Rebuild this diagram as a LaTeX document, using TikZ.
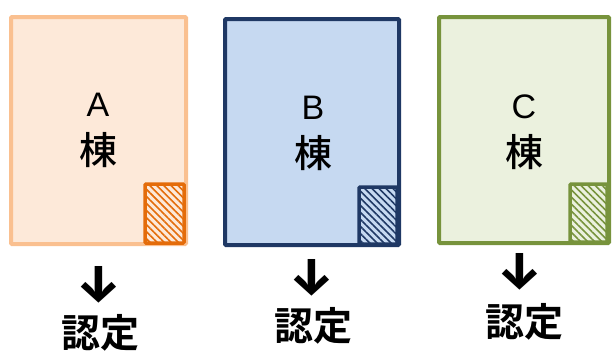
\documentclass[tikz,border=0pt]{standalone}
\usepackage{fontspec}
\setmainfont{Liberation Sans}
\newfontfamily\cjk{Noto Sans CJK JP Medium}
\newfontfamily\cjkb{Noto Sans CJK JP Bold}
\newfontfamily\arrfont{Fira Sans}
\usetikzlibrary{patterns.meta}
\definecolor{aline}{HTML}{FAC090}
\definecolor{afill}{HTML}{FDE9D9}
\definecolor{asmall}{HTML}{E46C0A}
\definecolor{bline}{HTML}{1F3864}
\definecolor{bfill}{HTML}{C6D9F1}
\definecolor{cline}{HTML}{77933C}
\definecolor{cfill}{HTML}{EBF1DE}
\tikzset{
  bldg/.style={line width=4pt, rounded corners=1pt},
  mark box/.style={line width=3.5pt, rounded corners=1pt, pattern={Lines[angle=-45,distance=5pt,line width=1.6pt]}},
  letter/.style={font=\fontsize{34}{34}\selectfont, inner sep=0pt},
  kanji/.style={font=\cjk\fontsize{38}{38}\selectfont, inner sep=0pt},
  arrowtxt/.style={font=\arrfont\bfseries\fontsize{52}{52}\selectfont, inner sep=0pt},
  nintei/.style={font=\cjkb\fontsize{39}{39}\selectfont, inner sep=0pt}
}
\begin{document}
\begin{tikzpicture}[x=1pt,y=-1pt]
\useasboundingbox (0,0) rectangle (613,354);
% A
\draw[bldg, draw=aline, fill=afill] (11,17) rectangle (186,244);
\draw[mark box, draw=asmall, pattern color=asmall] (145,184) rectangle (184,243);
\node[letter] (la) at (98,105) {A};
\node[kanji] (ka) at (98,150) {棟};
\node[arrowtxt] (ara) at (99,285) {↓};
\node[nintei] (na) at (100,333) {認定};
% B
\draw[bldg, draw=bline, fill=bfill] (225,19) rectangle (399,245);
\draw[mark box, draw=bline, pattern color=bline] (359,187) rectangle (397,244);
\node[letter] (lb) at (313,108) {B};
\node[kanji] (kb) at (313,153) {棟};
\node[arrowtxt] (arb) at (312,278) {↓};
\node[nintei] (nb) at (313,326) {認定};
% C
\draw[bldg, draw=cline, fill=cfill] (439,17) rectangle (609,243);
\draw[mark box, draw=cline, pattern color=cline] (570,184) rectangle (607,242);
\node[letter] (lc) at (524,107) {C};
\node[kanji] (kc) at (524,152) {棟};
\node[arrowtxt] (arc) at (520,272) {↓};
\node[nintei] (nc) at (524,322) {認定};
\end{tikzpicture}
\end{document}
